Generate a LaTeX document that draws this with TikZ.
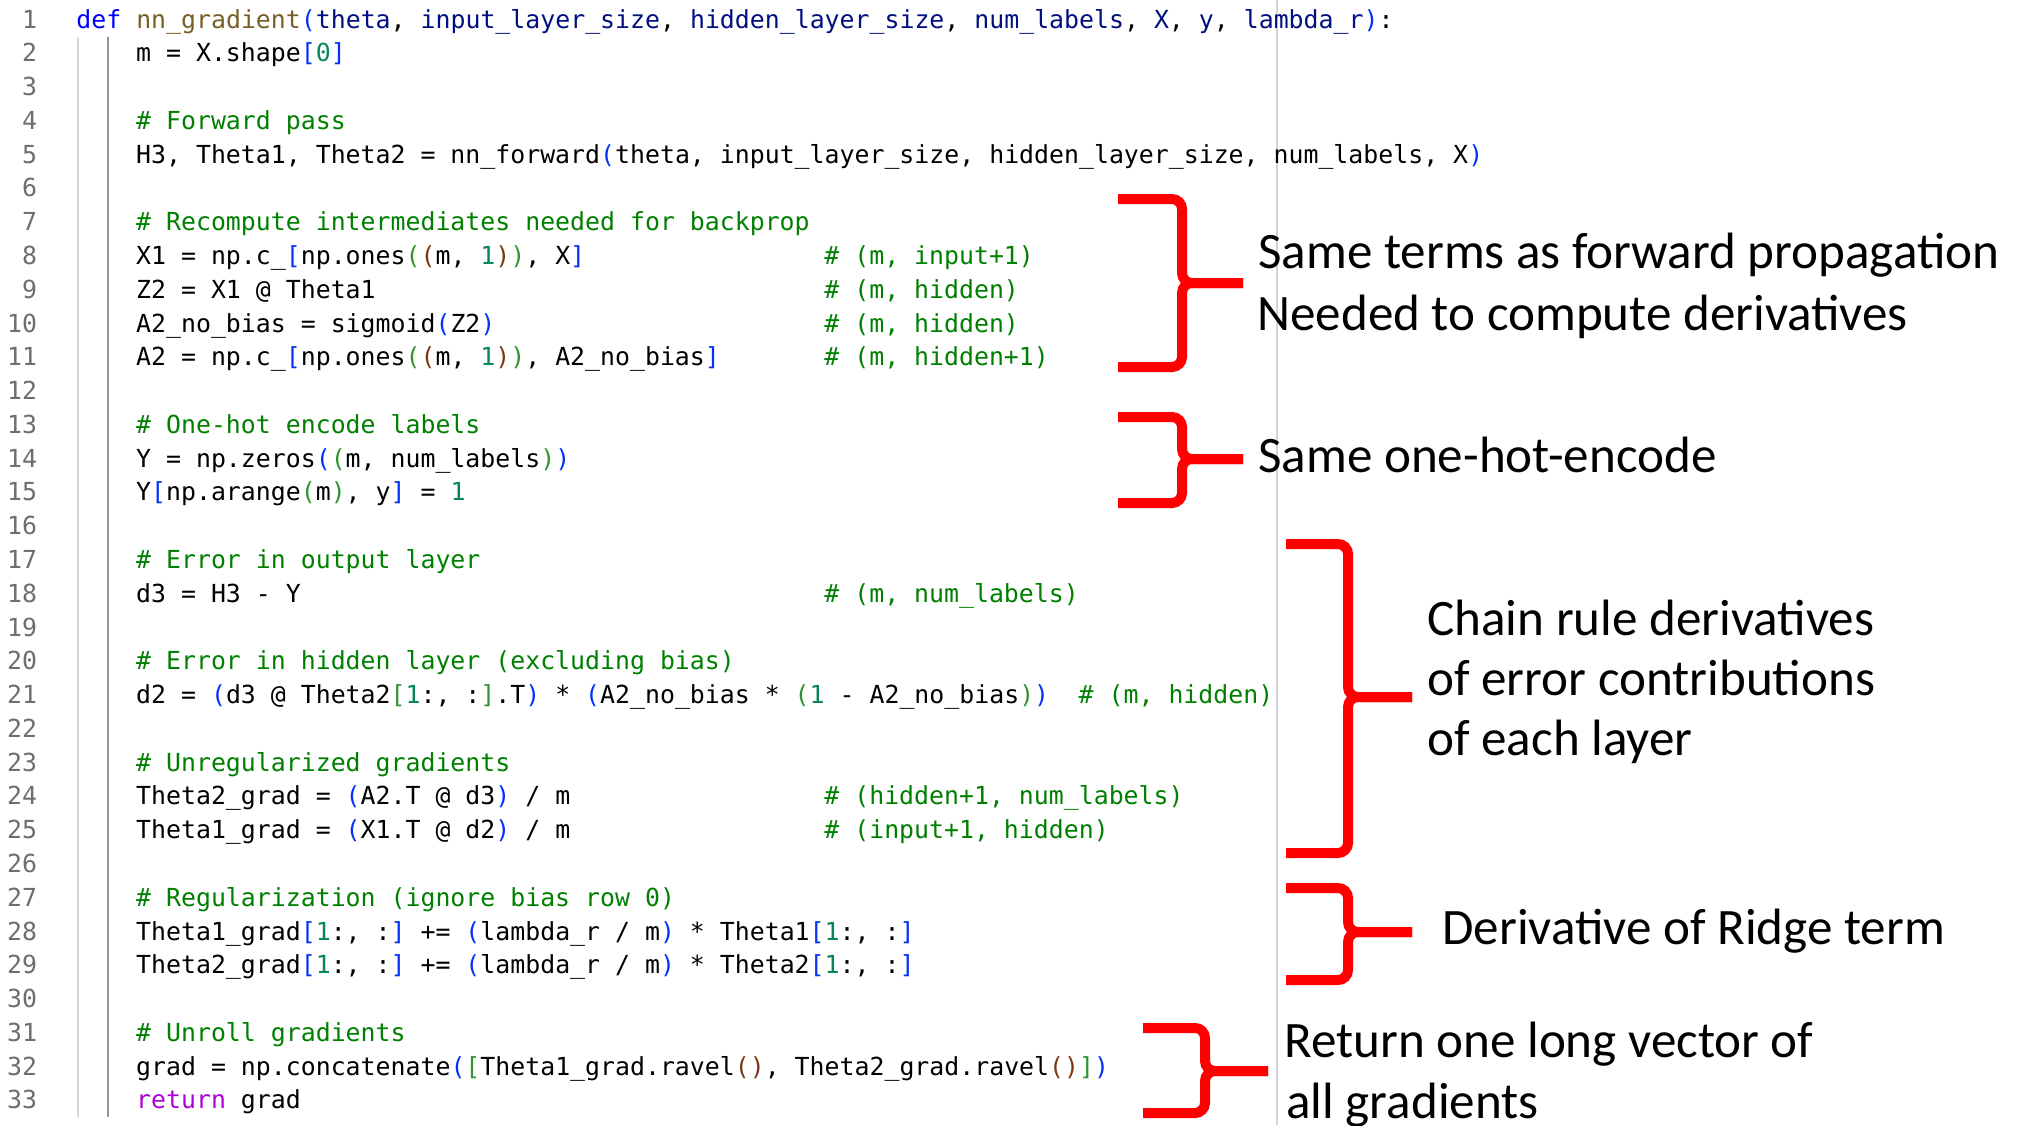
\documentclass[tikz,border=0pt]{standalone}
\usepackage{fontspec}
\usepackage{xcolor}
\usepackage{tikz}
\usetikzlibrary{positioning}
\newfontfamily\codefont{DejaVu Sans Mono}
\newfontfamily\notefont{Carlito}
\definecolor{kwblue}{RGB}{0,0,255}
\definecolor{fnbrown}{RGB}{121,94,38}
\definecolor{parnavy}{RGB}{0,16,128}
\definecolor{cmtgreen}{RGB}{0,128,0}
\definecolor{numteal}{RGB}{9,134,88}
\definecolor{rtnpurple}{RGB}{175,0,219}
\definecolor{bkone}{RGB}{4,49,250}
\definecolor{bktwo}{RGB}{49,147,49}
\definecolor{bkthree}{RGB}{123,56,20}
\definecolor{lnumgray}{RGB}{110,110,110}
\definecolor{guidegray}{RGB}{150,150,150}
\definecolor{rulegray}{RGB}{212,212,212}
\definecolor{bracered}{RGB}{255,0,0}
\newcommand{\bkA}[1]{\textcolor{bkone}{#1}}
\newcommand{\bkB}[1]{\textcolor{bktwo}{#1}}
\newcommand{\bkC}[1]{\textcolor{bkthree}{#1}}
\newcommand{\nmb}[1]{\textcolor{numteal}{#1}}
\newcommand{\prm}[1]{\textcolor{parnavy}{#1}}

\begin{document}
\begin{tikzpicture}[x=0.5pt, y=-0.5pt,
  code/.style={anchor=base west, inner sep=0pt, font={\codefont\fontsize{12.43}{15}\selectfont\frenchspacing}},
  cmt/.style={code, text=cmtgreen},
  lnum/.style={anchor=base east, inner sep=0pt, text=lnumgray, font={\codefont\fontsize{12.43}{15}\selectfont}},
  note/.style={anchor=base west, inner sep=0pt, font={\notefont\fontsize{25.55}{30}\selectfont}},
  bracket/.style={draw=bracered, line width=5pt, rounded corners=5pt}]
  \useasboundingbox[fill=white] (0,0) rectangle (2019,1125);

  % editor gutter and rulers
  \draw[rulegray, line width=0.7pt] (78,37) -- (78,1117);
  \draw[guidegray, line width=0.7pt] (108,37) -- (108,1117);
  \draw[rulegray, line width=1pt] (1277,0) -- (1277,1125);
  \foreach \i in {1,...,33}
    \node[lnum] (ln\i) at (37.5,{28+(\i-1)*33.78}) {\i};

  % code
  \node[code] (c1) at (76,28) {\textcolor{kwblue}{def} \textcolor{fnbrown}{nn\_gradient}\bkA{(}\prm{theta}, \prm{input\_layer\_size}, \prm{hidden\_layer\_size}, \prm{num\_labels}, \prm{X}, \prm{y}, \prm{lambda\_r}\bkA{)}:};
  \node[code] (c2) at (135.8,61.78) {m = X.shape\bkA{[}\nmb{0}\bkA{]}};
  \node[cmt] (c4) at (135.8,129.34) {\# Forward pass};
  \node[code] (c5) at (135.8,163.12) {H3, Theta1, Theta2 = nn\_forward\bkA{(}theta, input\_layer\_size, hidden\_layer\_size, num\_labels, X\bkA{)}};
  \node[cmt] (c7) at (135.8,230.68) {\# Recompute intermediates needed for backprop};
  \node[code] (c8) at (135.8,264.46) {X1 = np.c\_\bkA{[}np.ones\bkB{(}\bkC{(}m, \nmb{1}\bkC{)}\bkB{)}, X\bkA{]}};
  \node[cmt] (k8) at (824,264.46) {\# (m, input+1)};
  \node[code] (c9) at (135.8,298.24) {Z2 = X1 @ Theta1};
  \node[cmt] (k9) at (824,298.24) {\# (m, hidden)};
  \node[code] (c10) at (135.8,332.02) {A2\_no\_bias = sigmoid\bkA{(}Z2\bkA{)}};
  \node[cmt] (k10) at (824,332.02) {\# (m, hidden)};
  \node[code] (c11) at (135.8,365.8) {A2 = np.c\_\bkA{[}np.ones\bkB{(}\bkC{(}m, \nmb{1}\bkC{)}\bkB{)}, A2\_no\_bias\bkA{]}};
  \node[cmt] (k11) at (824,365.8) {\# (m, hidden+1)};
  \node[cmt] (c13) at (135.8,433.36) {\# One-hot encode labels};
  \node[code] (c14) at (135.8,467.14) {Y = np.zeros\bkA{(}\bkB{(}m, num\_labels\bkB{)}\bkA{)}};
  \node[code] (c15) at (135.8,500.92) {Y\bkA{[}np.arange\bkB{(}m\bkB{)}, y\bkA{]} = \nmb{1}};
  \node[cmt] (c17) at (135.8,568.48) {\# Error in output layer};
  \node[code] (c18) at (135.8,602.26) {d3 = H3 - Y};
  \node[cmt] (k18) at (824,602.26) {\# (m, num\_labels)};
  \node[cmt] (c20) at (135.8,669.82) {\# Error in hidden layer (excluding bias)};
  \node[code] (c21) at (135.8,703.6) {d2 = \bkA{(}d3 @ Theta2\bkB{[}\nmb{1}:, :\bkB{]}.T\bkA{)} * \bkA{(}A2\_no\_bias * \bkB{(}\nmb{1} - A2\_no\_bias\bkB{)}\bkA{)}};
  \node[cmt] (k21) at (1078.3,703.6) {\# (m, hidden)};
  \node[cmt] (c23) at (135.8,771.16) {\# Unregularized gradients};
  \node[code] (c24) at (135.8,804.94) {Theta2\_grad = \bkA{(}A2.T @ d3\bkA{)} / m};
  \node[cmt] (k24) at (824,804.94) {\# (hidden+1, num\_labels)};
  \node[code] (c25) at (135.8,838.72) {Theta1\_grad = \bkA{(}X1.T @ d2\bkA{)} / m};
  \node[cmt] (k25) at (824,838.72) {\# (input+1, hidden)};
  \node[cmt] (c27) at (135.8,906.28) {\# Regularization (ignore bias row 0)};
  \node[code] (c28) at (135.8,940.06) {Theta1\_grad\bkA{[}\nmb{1}:, :\bkA{]} += \bkA{(}lambda\_r / m\bkA{)} * Theta1\bkA{[}\nmb{1}:, :\bkA{]}};
  \node[code] (c29) at (135.8,973.84) {Theta2\_grad\bkA{[}\nmb{1}:, :\bkA{]} += \bkA{(}lambda\_r / m\bkA{)} * Theta2\bkA{[}\nmb{1}:, :\bkA{]}};
  \node[cmt] (c31) at (135.8,1041.4) {\# Unroll gradients};
  \node[code] (c32) at (135.8,1075.18) {grad = np.concatenate\bkA{(}\bkB{[}Theta1\_grad.ravel\bkC{()}, Theta2\_grad.ravel\bkC{()}\bkB{]}\bkA{)}};
  \node[code] (c33) at (135.8,1108.96) {\textcolor{rtnpurple}{return} grad};

  % red braces
  \draw[bracket] (1118,199) -- (1182,199) -- (1182,283) -- (1243,283);
  \draw[bracket] (1118,367) -- (1182,367) -- (1182,283) -- (1243,283);
  \draw[bracket] (1118,417) -- (1182,417) -- (1182,459) -- (1243,459);
  \draw[bracket] (1118,503) -- (1182,503) -- (1182,459) -- (1243,459);
  \draw[bracket] (1286,544) -- (1348,544) -- (1348,697) -- (1412,697);
  \draw[bracket] (1286,853) -- (1348,853) -- (1348,697) -- (1412,697);
  \draw[bracket] (1286,888) -- (1348,888) -- (1348,932) -- (1412,932);
  \draw[bracket] (1286,980) -- (1348,980) -- (1348,932) -- (1412,932);
  \draw[bracket] (1143,1028) -- (1205,1028) -- (1205,1071) -- (1268,1071);
  \draw[bracket] (1143,1113) -- (1205,1113) -- (1205,1071) -- (1268,1071);

  % notes
  \node[note] (fwd) at (1258,268) {Same terms as forward propagation};
  \node[note] (need) at (1257,330) {Needed to compute derivatives};
  \node[note] (onehot) at (1258,472) {Same one-hot-encode};
  \node[note] (chain) at (1427,635) {Chain rule derivatives};
  \node[note] (contrib) at (1427,695) {of error contributions};
  \node[note] (layer) at (1427,755) {of each layer};
  \node[note] (ridge) at (1442,944) {Derivative of Ridge term};
  \node[note] (ret) at (1284,1057) {Return one long vector of};
  \node[note] (allg) at (1286,1118) {all gradients};
\end{tikzpicture}
\end{document}
